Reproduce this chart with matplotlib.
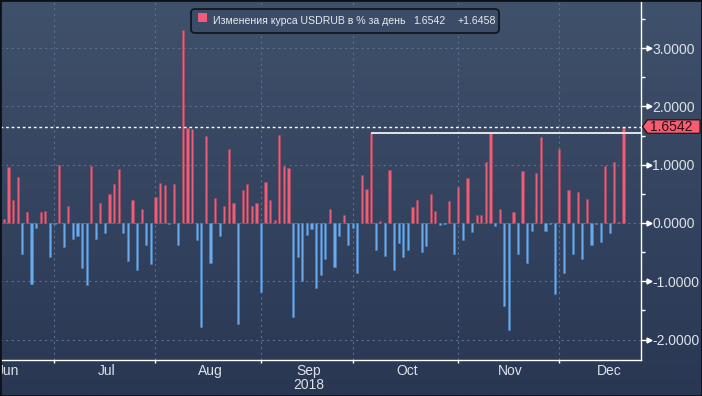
import numpy as np
import pandas as pd
import matplotlib
matplotlib.use('Agg')
import matplotlib.pyplot as plt
from matplotlib.patches import Polygon, FancyBboxPatch, Rectangle
from matplotlib.transforms import IdentityTransform, blended_transform_factory
from matplotlib.colors import LinearSegmentedColormap
from matplotlib.ticker import FixedLocator, MultipleLocator, FuncFormatter, NullFormatter

# ---------------- data ----------------
start_date = '2018-06-15'          # first business day shown
changes = [
    0.07, 0.96, 0.39, 0.79, -0.53, 0.19, -1.04, -0.08, 0.19, 0.21,
    -0.58, -0.01, 0.99, -0.41, 0.29, -0.27, -0.22, -0.78, -1.06, 0.98,
    -0.27, 0.34, -0.18, 0.50, 0.67, 0.93, -0.17, -0.65, 0.39, -0.80,
    0.24, -0.37, -0.71, 0.45, 0.69, 0.65, -0.01, 0.67, -0.37, 3.31,
    1.63, 1.61, -0.30, -1.79, 1.49, -0.68, 0.43, -0.22, 0.29, 1.27,
    0.34, -1.74, 0.57, 0.67, 0.29, 0.34, -1.18, 0.70, 0.39, 0.05,
    1.51, 0.98, 0.94, -1.61, -0.59, -0.99, -0.20, -0.10, -1.11, -0.90,
    -0.61, 0.24, -0.75, -0.23, 0.14, -0.37, -0.08, -0.85, 0.82, 0.58,
    1.55, -0.46, 0.03, -0.56, 0.91, -0.80, -0.34, -0.58, -0.46, 0.27,
    0.39, -0.49, -0.39, 0.50, 0.21, -0.03, -0.01, 0.38, -0.54, 0.62,
    -0.30, 0.77, -0.15, 0.14, 0.14, 1.05, 1.55, -0.06, 0.24, -1.42,
    -1.83, 0.19, -0.54, 0.89, -0.68, -0.13, 0.86, 1.47, -0.13, -0.01,
    -1.21, 1.27, -0.85, 0.57, -0.53, 0.53, -0.61, 0.41, -0.37, -0.02,
    -0.32, 0.98, -0.18, 1.05, 0.01, 1.6542,
]
last_value = 1.6542
last_change = '+1.6458'
series_label = 'Изменения курса USDRUB в % за день'
month_labels = ['Jun', 'Jul', 'Aug', 'Sep', 'Oct', 'Nov', 'Dec']
year_label = '2018'
y_ticks = [-2, -1, 0, 1, 2, 3]
high_start = 80        # index of the bar where the white "high" line starts

# ---------------- layout / style ----------------
W, H = 702, 396
RED = '#ec5f77'
RED_EDGE = '#a9485f'
BLUE = '#69abec'
BLUE_EDGE = '#4d82bb'
TXT = '#dde2ea'
GRID = '#5b6e8c'
FONT = 'Liberation Sans'

plt.rcParams['font.family'] = [FONT, 'DejaVu Sans']

dates = pd.bdate_range(start_date, periods=len(changes))
x = np.arange(len(changes))

fig = plt.figure(figsize=(W / 100, H / 100), dpi=100)

# gradient background
bg = fig.add_axes([0, 0, 1, 1], zorder=-10)
grad = np.linspace(0, 1, 256).reshape(-1, 1)
cmap = LinearSegmentedColormap.from_list('bg', ['#40516c', '#293753'])
bg.imshow(grad, aspect='auto', cmap=cmap, extent=[0, 1, 0, 1], origin='upper')
bg.set_axis_off()

ax = fig.add_axes([0, 36 / H, 641 / W, 360 / H])
ax.set_facecolor('none')

colors = [RED if v >= 0 else BLUE for v in changes]
edges = [RED_EDGE if v >= 0 else BLUE_EDGE for v in changes]
ax.bar(x, changes, width=0.48, color=colors, edgecolor=edges, linewidth=0.4, zorder=3)

ax.set_xlim(-0.87, 138.8)
ax.set_ylim(-2.35, 3.825)

# month positions (business-day index)
full_days = pd.bdate_range('2018-06-01', '2019-01-01')
offset = full_days.get_loc(dates[0])
pos = np.arange(len(full_days)) - offset
months = full_days.month
month_firsts = [pos[months == m][0] for m in [6, 7, 8, 9, 10, 11, 12, 1]]
boundaries = month_firsts[1:7]
centers = [(month_firsts[i] + month_firsts[i + 1]) / 2 + 0.4 for i in range(7)]

ax.xaxis.set_major_locator(FixedLocator(boundaries))
ax.xaxis.set_major_formatter(NullFormatter())
ax.xaxis.set_minor_locator(FixedLocator(centers))
ax.set_xticklabels(month_labels, minor=True)
ax.tick_params(axis='x', which='major', length=2.5, width=1, color='white', direction='out')
ax.tick_params(axis='x', which='minor', length=0, labelsize=10, labelcolor=TXT, pad=3)

# y axis on right
ax.yaxis.tick_right()
ax.yaxis.set_major_locator(FixedLocator(y_ticks))
ax.yaxis.set_minor_locator(MultipleLocator(0.5))
ax.yaxis.set_major_formatter(FuncFormatter(lambda v, p: f'{v:.4f}'))
ax.tick_params(axis='y', which='major', length=5, width=1, color='white',
               labelsize=10, labelcolor=TXT, pad=3)
ax.tick_params(axis='y', which='minor', length=3, width=1, color='white')

for sp in ['top', 'left']:
    ax.spines[sp].set_visible(False)
for sp in ['right', 'bottom']:
    ax.spines[sp].set_color('white')
    ax.spines[sp].set_linewidth(1)

ax.grid(True, which='major', axis='both', color=GRID, linestyle=(0, (2, 3)), linewidth=0.8)
ax.set_axisbelow(True)

# arrow heads on major y ticks
btf = blended_transform_factory(ax.transAxes, ax.transData)
ax.plot([1 + 7.5 / 641] * len(y_ticks), y_ticks, linestyle='none', marker='>',
        markersize=3.5, color='white', transform=btf, clip_on=False, zorder=5)

# last value dotted line and high line
ax.axhline(last_value, color='white', linestyle=(0, (2, 2)), linewidth=1, zorder=4)
ax.hlines(changes[high_start], high_start, ax.get_xlim()[1], color='white', linewidth=1.2, zorder=4)

# last value tag on the right
fig.canvas.draw()
yp = ax.transData.transform((0, last_value))[1]
h2 = 6.7
tag = Polygon([(642.5, yp), (647.5, yp + h2), (700, yp + h2), (700, yp - h2), (647.5, yp - h2)],
              closed=True, facecolor='#f55d73', edgecolor='#1a0d10', linewidth=0.8,
              transform=IdentityTransform(), zorder=10, clip_on=False)
fig.patches.append(tag)
fig.text(671 / W, yp / H, f'{last_value:.4f}', ha='center', va='center',
         fontsize=10, color='#2b1016', zorder=11)

# legend box
box = FancyBboxPatch((191, H - 33), 308, 24, boxstyle='round,pad=0,rounding_size=4',
                     facecolor='#3c4c67', edgecolor='#0e131c', linewidth=1.2,
                     transform=IdentityTransform(), zorder=10)
fig.patches.append(box)
sq = Rectangle((198, H - 21.5), 9, 9, facecolor='#f25c78', edgecolor='none',
               transform=IdentityTransform(), zorder=11)
fig.patches.append(sq)
ty = 1 - 21.5 / H
renderer = fig.canvas.get_renderer()
t1 = fig.text(213 / W, ty, series_label, ha='left', va='center', fontsize=7.6,
              color='#e8eaee', zorder=12)
x1 = t1.get_window_extent(renderer).x1
t2 = fig.text((x1 + 8) / W, ty, f'{last_value:.4f}', ha='left', va='center', fontsize=7.6,
              color='#e8eaee', zorder=12)
x2 = t2.get_window_extent(renderer).x1
fig.text((x2 + 12) / W, ty, last_change, ha='left', va='center', fontsize=7.6,
         color='#e8eaee', zorder=12)

# year label under Sep
sep_px = ax.transData.transform((centers[3], 0))[0]
fig.text(sep_px / W, 1 - 385 / H, year_label, ha='center', va='center', fontsize=10, color=TXT)

# figure border
fig.patches.append(Rectangle((0, 0), 1, 1, fill=False, edgecolor='#0d1118', linewidth=2,
                             transform=fig.transFigure, zorder=20))

fig.savefig('out.png', dpi=100)
